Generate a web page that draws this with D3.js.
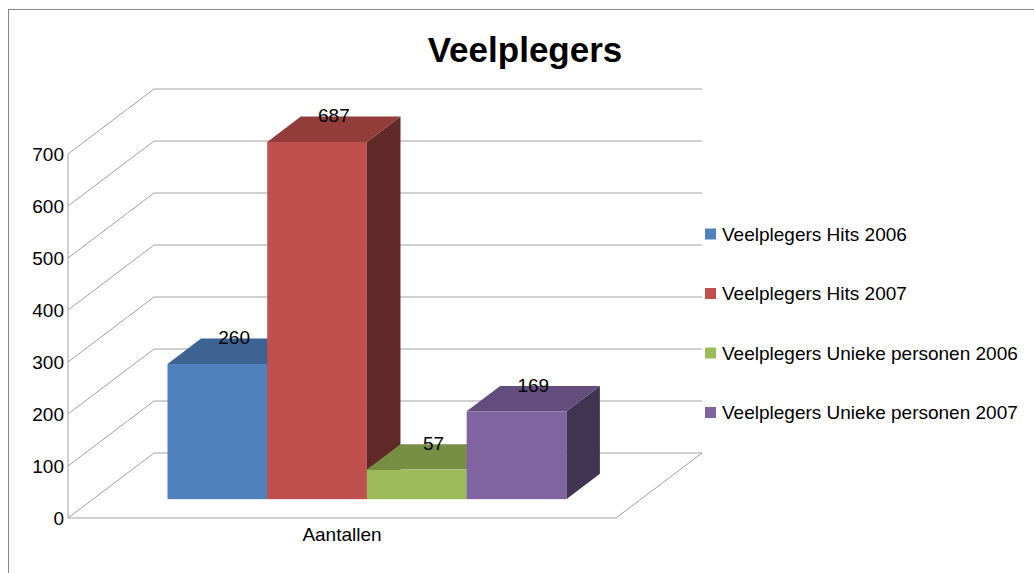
<!DOCTYPE html>
<html>
<head>
<meta charset="utf-8">
<script src="https://cdn.jsdelivr.net/npm/d3@7"></script>
<style>
  html, body { margin: 0; padding: 0; background: #fff; }
  svg { display: block; font-family: "Liberation Sans", Arial, sans-serif; }
</style>
</head>
<body>
<div id="main"></div>
<script>
const ctx = {
    w: 1034,
    h: 573,
    fs: 19,
};

// data
const categories = ["Aantallen"];
const series = ["Veelplegers Hits 2006", "Veelplegers Hits 2007",
                "Veelplegers Unieke personen 2006", "Veelplegers Unieke personen 2007"];
const values = [260, 687, 57, 169];
const yTicks = [0, 100, 200, 300, 400, 500, 600, 700];
const colors = ["#4F81BD", "#C0504D", "#9BBB59", "#8064A2"];

// plot box (front plane) and depth offset of the walls
const plot = { left: 68, right: 616, bottom: 518, top: 154 };
const depth = { dx: 86, dy: -65 };
const barZ = [0.29, 0.68]; // front / back of the bars, as fraction of depth

function createViz() {
    let svg = d3.select("#main").append("svg")
        .attr("width", ctx.w)
        .attr("height", ctx.h);

    // chart border (only top and left visible)
    svg.append("rect")
        .attr("x", 8.5).attr("y", 9.5)
        .attr("width", 1100).attr("height", 700)
        .attr("fill", "none").attr("stroke", "#868686");

    let y = d3.scaleLinear().domain([0, 700]).range([plot.bottom, plot.top]);
    let x0 = d3.scaleBand().domain(categories).range([plot.left, plot.right]).paddingOuter(0.187);
    let x1 = d3.scaleBand().domain(series).range([0, x0.bandwidth()]);

    // projection: floor x, value, depth fraction z -> screen
    const proj = (x, v, z) => [x + z * depth.dx, y(v) + z * depth.dy];
    const pts = arr => arr.map(p => p.join(",")).join(" ");

    const grid = svg.append("g").attr("stroke", "#a0a0a0").attr("fill", "none");
    // side wall diagonals + back wall horizontals
    yTicks.forEach(t => {
        grid.append("polyline")
            .attr("points", pts([proj(plot.left, t, 0), proj(plot.left, t, 1), proj(plot.right, t, 1)]));
    });
    // floor
    grid.append("polyline")
        .attr("points", pts([proj(plot.left, 0, 0), proj(plot.right, 0, 0), proj(plot.right, 0, 1)]));
    // front vertical axis
    grid.append("line")
        .attr("x1", plot.left).attr("x2", plot.left)
        .attr("y1", y(700)).attr("y2", y(0));

    // y tick labels
    svg.append("g").selectAll("text")
        .data(yTicks).enter().append("text")
        .attr("x", plot.left - 4)
        .attr("y", d => y(d))
        .attr("dy", "0.35em")
        .attr("text-anchor", "end")
        .attr("font-size", ctx.fs)
        .attr("fill", "#000")
        .text(d => d);

    // bars (drawn left to right so later ones cover earlier side faces)
    let bars = svg.append("g").selectAll("g")
        .data(series.map((s, i) => ({ s, v: values[i], c: colors[i] })))
        .enter().append("g");

    bars.each(function(d) {
        let g = d3.select(this);
        let xa = x0(categories[0]) + x1(d.s), xb = xa + x1.bandwidth();
        let [zf, zb] = barZ;
        let col = d3.color(d.c);
        // right face
        g.append("polygon")
            .attr("points", pts([proj(xb, 0, zf), proj(xb, 0, zb), proj(xb, d.v, zb), proj(xb, d.v, zf)]))
            .attr("fill", col.darker(1.9));
        // top face
        g.append("polygon")
            .attr("points", pts([proj(xa, d.v, zf), proj(xb, d.v, zf), proj(xb, d.v, zb), proj(xa, d.v, zb)]))
            .attr("fill", col.darker(0.75));
        // front face
        let p0 = proj(xa, d.v, zf), p1 = proj(xb, 0, zf);
        g.append("rect")
            .attr("x", p0[0]).attr("y", p0[1])
            .attr("width", p1[0] - p0[0]).attr("height", p1[1] - p0[1])
            .attr("fill", d.c);
        // value label
        let lx = proj((xa + xb) / 2, d.v, (zf + zb) / 2)[0];
        let ly = proj(xa, d.v, zb)[1];
        g.append("text")
            .attr("x", lx).attr("y", ly - 1)
            .attr("dy", "0.35em")
            .attr("text-anchor", "middle")
            .attr("font-size", ctx.fs)
            .attr("fill", "#000")
            .text(d.v);
    });

    // category label
    svg.append("text")
        .attr("x", x0(categories[0]) + x0.bandwidth() / 2)
        .attr("y", 541)
        .attr("text-anchor", "middle")
        .attr("font-size", ctx.fs)
        .text(categories[0]);

    // title
    svg.append("text")
        .attr("x", 525).attr("y", 62)
        .attr("text-anchor", "middle")
        .attr("font-size", 35)
        .attr("font-weight", "bold")
        .text("Veelplegers");

    // legend
    let legend = svg.append("g").selectAll("g")
        .data(series).enter().append("g")
        .attr("transform", (d, i) => `translate(705,${234 + i * 59.5})`);
    legend.append("rect")
        .attr("x", 0).attr("y", -5.5)
        .attr("width", 11).attr("height", 11)
        .attr("fill", (d, i) => colors[i]);
    legend.append("text")
        .attr("x", 17).attr("y", 0)
        .attr("dy", "0.35em")
        .attr("font-size", ctx.fs)
        .text(d => d);
}

createViz();
</script>
</body>
</html>
